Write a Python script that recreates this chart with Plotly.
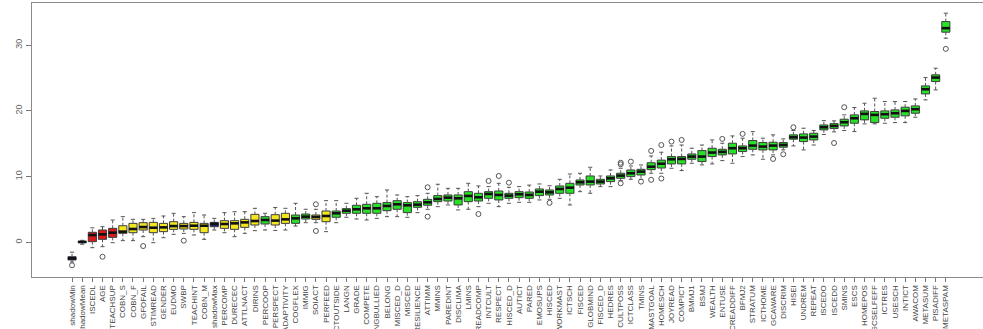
import plotly.graph_objects as go

features = ["shadowMin", "shadowMean", "ISCEDL", "AGE", "TEACHSUP", "COBN_S", "COBN_F", "GFOFAIL",
            "STIMREAD", "GENDER", "EUDMO", "SWBP", "TEACHINT", "COBN_M", "shadowMax", "PERCOMP",
            "DURECEC", "ATTLNACT", "DIRINS", "PERCOOP", "PERSPECT", "ADAPTIVITY", "COGFLEX", "IMMIG",
            "SOIACT", "PERFEED", "ICTOUTSIDE", "LANGN", "GRADE", "COMPETE", "BEINGBULLIED", "BELONG",
            "MISCED_D", "MISCED", "RESILIENCE", "ATTIMM", "MMINS", "PAREDINT", "DISCLIMA", "LMINS",
            "SCREADCOMP", "INTCULT", "RESPECT", "HISCED_D", "AUTICT", "PARED", "EMOSUPS", "HISCED",
            "WORKMAST", "ICTSCH", "FISCED", "GLOBMIND", "FISCED_D", "HEDRES", "CULTPOSS", "ICTCLASS",
            "TMINS", "MASTGOAL", "HOMESCH", "JOYREAD", "COMPICT", "BMMJ1", "BSMJ", "WEALTH",
            "ENTUSE", "SCREADDIFF", "BFMJ2", "STRATUM", "ICTHOME", "GCAWARE", "DISCRIM", "HISEI",
            "UNDREM", "REPEAT", "ISCEDO", "ISCEDD", "SMINS", "ESCS", "HOMEPOS", "GCSELFEFF",
            "ICTRES", "USESCH", "INTICT", "AWACOM", "METASUM", "PISADIFF", "METASPAM"]

# S = shadow, R = rejected, T = tentative, C = confirmed
status = ["S", "S", "R", "R", "R", "T", "T", "T", "T", "T", "T", "T", "T", "T", "S", "T",
          "T", "T", "T", "C", "T", "T", "C", "C", "T", "T", "C"] + ["C"] * 60

whisker_lo = [-3.0, -0.3, -0.82, -0.67, -0.06, 0.25, 0.25, 0.85, -0.06, 0.7, 1.21, 1.36, 1.11, 0.45, 1.87, 1.46,
              0.85, 1.36, 1.77, 1.87, 1.8, 1.87, 2.47, 2.98, 2.98, 1.62, 2.98, 3.8, 3.54, 3.39, 3.64, 3.9,
              3.9, 3.8, 4.51, 5.02, 5.42, 5.68, 4.92, 5.02, 5.42, 5.93, 5.42, 5.93, 6.08, 6.08, 6.44, 6.54,
              6.69, 5.68, 7.7, 7.45, 8.47, 8.47, 9.38, 9.58, 9.58, 10.5, 10.5, 11.26, 10.91, 12.02, 11.77, 11.92,
              12.43, 12.02, 13.04, 13.29, 12.63, 13.29, 14.05, 14.66, 14.05, 14.8, 16.4, 16.8, 17.0, 16.84, 18.01, 18.01,
              18.11, 18.21, 18.21, 19.02, 21.66, 23.18, 31.04]
q1 = [-2.69, -0.05, 0.1, 0.45, 0.75, 1.36, 1.46, 1.87, 1.46, 1.62, 1.97, 2.02, 1.97, 1.46, 2.37, 2.12,
      1.97, 2.27, 2.63, 2.78, 2.63, 2.88, 2.88, 3.54, 3.49, 3.13, 3.8, 4.41, 4.41, 4.41, 4.41, 4.81,
      5.02, 4.51, 5.32, 5.63, 6.18, 6.28, 5.68, 6.18, 6.28, 6.69, 6.44, 6.69, 6.79, 6.69, 7.1, 7.2,
      7.45, 7.45, 8.72, 8.72, 8.87, 9.23, 9.73, 9.99, 10.24, 11.05, 11.3, 11.92, 11.92, 12.63, 12.28, 13.04,
      13.29, 13.44, 13.8, 14.15, 14.05, 14.05, 14.46, 15.68, 15.32, 15.57, 17.1, 17.3, 17.7, 18.11, 18.62, 18.21,
      18.87, 19.02, 19.23, 19.63, 22.57, 24.45, 31.96]
median = [-2.45, 0.05, 1.1, 1.21, 1.46, 1.62, 2.02, 2.32, 2.22, 2.27, 2.47, 2.47, 2.52, 2.52, 2.78, 2.78,
          2.88, 3.03, 3.24, 3.39, 3.3, 3.49, 3.64, 3.9, 3.85, 4.0, 4.41, 4.81, 5.02, 5.17, 5.17, 5.53,
          5.78, 5.63, 5.73, 6.08, 6.59, 6.79, 6.69, 7.05, 6.84, 7.35, 7.2, 7.1, 7.3, 7.2, 7.7, 7.6,
          8.11, 8.31, 9.13, 9.23, 9.23, 9.73, 10.14, 10.5, 10.75, 11.5, 11.95, 12.63, 12.68, 13.04, 13.04, 13.65,
          13.75, 14.31, 14.31, 14.71, 14.56, 14.71, 14.81, 15.98, 15.93, 16.08, 17.5, 17.7, 18.26, 18.87, 19.53, 19.38,
          19.48, 19.63, 19.99, 20.24, 23.28, 25.06, 32.57]
q3 = [-2.19, 0.15, 1.52, 1.87, 2.12, 2.52, 2.88, 2.98, 3.03, 2.88, 3.13, 2.88, 3.03, 2.88, 3.03, 3.29,
      3.29, 3.49, 4.25, 3.9, 4.2, 4.41, 4.15, 4.3, 4.15, 4.76, 4.76, 5.12, 5.63, 5.78, 5.93, 6.04,
      6.33, 6.04, 6.18, 6.54, 7.1, 7.2, 7.2, 7.7, 7.45, 7.7, 7.8, 7.45, 7.7, 7.65, 8.11, 7.96,
      8.57, 8.97, 9.48, 10.09, 9.58, 10.09, 10.5, 11.0, 11.1, 12.1, 12.5, 13.04, 13.04, 13.44, 13.95, 14.31,
      14.15, 15.07, 14.66, 15.48, 15.17, 15.22, 15.17, 16.34, 16.49, 16.59, 17.85, 18.05, 18.72, 19.38, 19.99, 19.89,
      19.99, 20.14, 20.55, 20.75, 23.79, 25.47, 33.58]
whisker_hi = [-1.5, 0.3, 2.2, 2.37, 3.39, 3.9, 3.49, 3.49, 3.64, 4.0, 4.41, 3.9, 4.51, 4.15, 3.64, 4.51,
              4.66, 4.66, 5.17, 4.41, 5.3, 5.17, 5.93, 5.02, 5.02, 6.33, 6.33, 5.93, 6.69, 7.45, 6.94, 7.96,
              7.2, 6.94, 7.1, 7.45, 8.83, 8.21, 8.21, 8.97, 8.57, 8.47, 8.97, 8.36, 8.47, 8.7, 8.87, 8.6,
              9.58, 10.39, 10.5, 11.41, 10.09, 11.0, 11.26, 11.61, 11.76, 13.13, 13.7, 14.66, 14.8, 14.31, 14.8, 15.57,
              15.07, 16.18, 15.83, 16.84, 15.83, 16.34, 15.73, 17.0, 17.35, 17.0, 18.5, 18.47, 19.38, 20.5, 21.15, 21.91,
              21.41, 21.41, 21.41, 21.81, 25.06, 26.48, 34.85]

outlier_feature = ["shadowMin", "AGE", "GFOFAIL", "SWBP", "SOIACT", "SOIACT", "ATTIMM", "ATTIMM",
                   "SCREADCOMP", "INTCULT", "RESPECT", "HISCED_D", "HISCED", "CULTPOSS", "CULTPOSS",
                   "CULTPOSS", "ICTCLASS", "TMINS", "MASTGOAL", "MASTGOAL", "HOMESCH", "HOMESCH",
                   "JOYREAD", "COMPICT", "ENTUSE", "BFMJ2", "GCAWARE", "DISCRIM", "HISEI", "ISCEDD",
                   "SMINS", "METASPAM"]
outlier_value = [-3.5, -2.2, -0.57, 0.25, 5.78, 1.72, 8.37, 3.9,
                 4.3, 9.33, 10.09, 9.07, 6.0, 11.86, 12.1,
                 8.97, 12.27, 9.23, 13.9, 9.5, 14.8, 9.7,
                 15.32, 15.57, 15.73, 16.49, 12.68, 13.39, 17.5, 15.1,
                 20.55, 29.42]

fill_colors = {"S": "#1c2b94", "R": "#dc1a1a", "T": "#f4e61e", "C": "#27e027"}
ink = "#3c3c3c"

pos = list(range(1, len(features) + 1))
pos_of = {f: p for f, p in zip(features, pos)}

fig = go.Figure()
for s in ["S", "R", "T", "C"]:
    idx = [i for i, st in enumerate(status) if st == s]
    fig.add_trace(go.Box(
        x=[pos[i] for i in idx],
        q1=[q1[i] for i in idx],
        median=[median[i] for i in idx],
        q3=[q3[i] for i in idx],
        lowerfence=[q1[i] for i in idx],
        upperfence=[q3[i] for i in idx],
        width=0.8, whiskerwidth=0,
        fillcolor=fill_colors[s],
        line=dict(color=ink, width=1),
        boxpoints=False, showlegend=False, hoverinfo="skip",
    ))

# dashed whiskers
wx, wy = [], []
for p, lo, a, b, hi in zip(pos, whisker_lo, q1, q3, whisker_hi):
    wx += [p, p, None, p, p, None]
    wy += [b, hi, None, a, lo, None]
fig.add_trace(go.Scatter(x=wx, y=wy, mode="lines", line=dict(color="#555555", width=1, dash="3px,2px"),
                         showlegend=False, hoverinfo="skip"))

# staples
cx, cy = [], []
for p, lo, hi in zip(pos, whisker_lo, whisker_hi):
    cx += [p - 0.2, p + 0.2, None, p - 0.2, p + 0.2, None]
    cy += [hi, hi, None, lo, lo, None]
fig.add_trace(go.Scatter(x=cx, y=cy, mode="lines", line=dict(color="#555555", width=1),
                         showlegend=False, hoverinfo="skip"))

# thick medians
mx, my = [], []
for p, m in zip(pos, median):
    mx += [p - 0.4, p + 0.4, None]
    my += [m, m, None]
fig.add_trace(go.Scatter(x=mx, y=my, mode="lines", line=dict(color="#111111", width=2.6),
                         showlegend=False, hoverinfo="skip"))

# outliers
fig.add_trace(go.Scatter(
    x=[pos_of[f] for f in outlier_feature], y=outlier_value, mode="markers",
    marker=dict(symbol="circle-open", size=5, color="#555555", line=dict(width=1)),
    showlegend=False, hoverinfo="skip"))

font = "Liberation Sans, Arial, sans-serif"
fig.update_layout(
    width=983, height=329,
    margin=dict(l=32, r=0, t=3, b=52),
    paper_bgcolor="white", plot_bgcolor="white",
    boxmode="overlay",
    font=dict(family=font, color="#555555"),
    xaxis=dict(
        range=[-2.94, 90.66], tickmode="array", tickvals=pos, ticktext=features,
        tickangle=-90, ticks="outside", ticklen=4, tickcolor="#777777",
        tickfont=dict(size=8, color="#444444", family=font),
        showline=True, linecolor="#8a8a8a", linewidth=1, mirror=True,
        showgrid=False, zeroline=False, automargin=False,
    ),
    yaxis=dict(
        range=[-5.28, 36.4], tickmode="array", tickvals=[0, 10, 20, 30],
        tickangle=-90, ticks="outside", ticklen=5, tickcolor="#777777",
        tickfont=dict(size=9, color="#666666", family=font),
        showline=True, linecolor="#8a8a8a", linewidth=1, mirror=False,
        showgrid=False, zeroline=False, automargin=False,
    ),
)

fig.write_html("out.html")
